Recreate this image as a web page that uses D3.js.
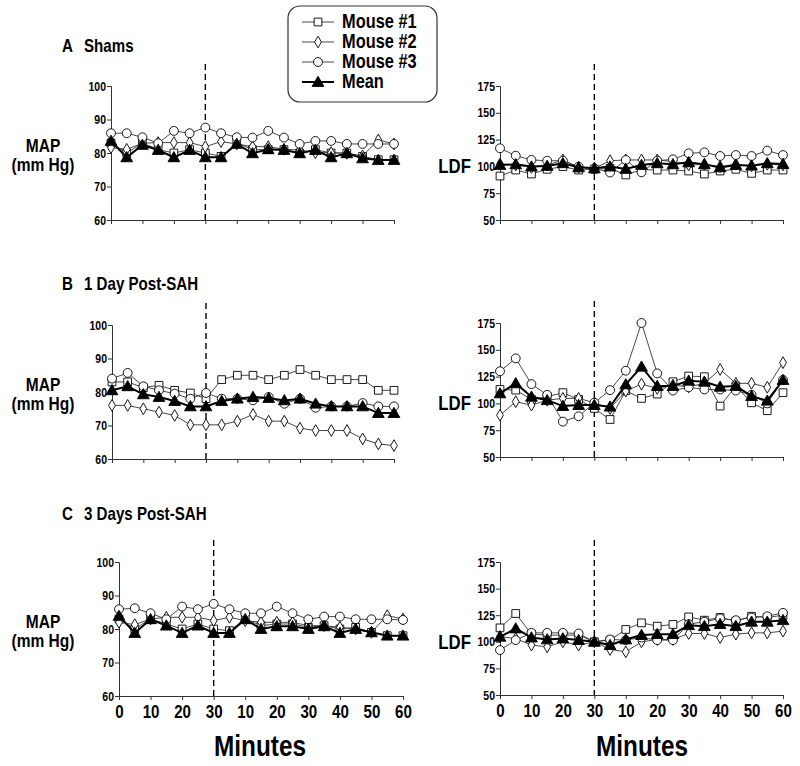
<!DOCTYPE html>
<html>
<head>
<meta charset="utf-8">
<script src="https://cdn.jsdelivr.net/npm/d3@7"></script>
<style>
  body { margin: 0; background: #fff; }
  svg text { font-family: "Liberation Sans", Arial, sans-serif; font-weight: bold; fill: #000; }
</style>
</head>
<body>
<script>
// positions along the x axis (5-min steps, baseline 0-30 then occlusion 0-60)
var elapsed = [0, 5, 10, 15, 20, 25, 30, 35, 40, 45, 50, 55, 60, 65, 70, 75, 80, 85, 90];
var tickPos = [0, 10, 20, 30, 40, 50, 60, 70, 80, 90];
var tickLabels = ["0", "10", "20", "30", "10", "20", "30", "40", "50", "60"];
var seriesNames = ["Mouse #1", "Mouse #2", "Mouse #3", "Mean"];

// A  Shams
var shamMap1 = [83, 80, 83, 81, 80, 81, 80, 79, 83, 81, 81, 81, 80, 81, 80, 80, 79, 78, 78];
var shamMap2 = [81.6, 81.1, 82.9, 83.1, 83.1, 83.1, 81.9, 83.4, 82.7, 81.9, 81.9, 81.1, 80.9, 80.1, 80.1, 79.9, 79.1, 83.9, 82.7];
var shamMap3 = [85.9, 85.9, 84.7, 82.9, 86.6, 85.9, 87.6, 85.9, 84.7, 84.6, 86.6, 84.6, 82.7, 83.6, 83.6, 82.7, 82.7, 82.7, 82.7];
var shamMapMean = [83.6, 78.7, 82.4, 80.9, 78.7, 80.9, 78.7, 78.7, 82.7, 79.9, 81.1, 80.9, 79.9, 80.9, 78.7, 79.9, 78.4, 77.9, 77.9];

var shamLdf1 = [91, 96.6, 92.9, 97.3, 99.8, 96.6, 97.3, 98.2, 92, 97, 96.6, 96.6, 95.7, 92.9, 95.7, 97.3, 93.5, 96.6, 96.6];
var shamLdf2 = [102.2, 101.3, 99.1, 101.3, 106, 99.1, 98.2, 105.3, 106, 106, 106, 104.5, 101.3, 102, 99.8, 102, 100.4, 102, 101.3];
var shamLdf3 = [116.9, 110, 106, 105.3, 105.3, 99.8, 98.2, 94.3, 106, 94.5, 105.3, 106.6, 112.2, 113.1, 109.7, 110.6, 109.7, 114.7, 110.6];
var shamLdfMean = [101.3, 101.9, 99.8, 100.4, 102.9, 99.1, 98.2, 99.8, 97.6, 101.3, 102.9, 101.9, 103.8, 101.9, 99.1, 101.3, 100.7, 102.9, 102.2];

// B  1 Day Post-SAH
var day1Map1 = [83, 83, 81.3, 82, 80.5, 79.7, 78, 83.7, 85, 85, 83.7, 85, 86.7, 85, 83.7, 83.7, 83.7, 80.5, 80.5];
var day1Map2 = [76, 76, 75, 74, 73, 70.2, 70.2, 70.2, 71.3, 73.3, 71.3, 71.3, 69.2, 68.5, 68.5, 68.5, 66, 64.5, 64];
var day1Map3 = [84, 85.7, 81.7, 80.5, 79.5, 78, 79.7, 78, 78, 77.5, 78.5, 76.5, 78, 75.3, 75.7, 75.7, 76.7, 75.7, 75.7];
var day1MapMean = [80.5, 81.7, 79.3, 78.5, 77.3, 75.7, 75.7, 77.3, 78, 78.5, 78.2, 77.5, 78, 76.5, 75.7, 75.7, 75.7, 73.7, 73.7];

var day1Ldf1 = [113, 112.4, 103.7, 106.2, 110, 103.7, 95.3, 85, 111.8, 104.7, 108.7, 120.2, 125.5, 124.9, 97.5, 116.2, 100.6, 93.2, 110];
var day1Ldf2 = [89, 101.6, 98.4, 103, 104.7, 104.7, 100.6, 95.3, 111.5, 118, 114, 117, 115.5, 118.7, 131.7, 118.7, 118.7, 115, 138];
var day1Ldf3 = [130, 142, 118, 108, 83, 88, 100.6, 112.4, 130.5, 175, 128, 112, 115, 113, 113, 112, 108, 100, 122];
var day1LdfMean = [109.3, 118.7, 106.2, 103, 97.5, 98.4, 98.4, 96.9, 117.7, 134.2, 116.2, 116.2, 121.1, 120.2, 115.5, 116.2, 106.8, 102.5, 121.8];

// C  3 Days Post-SAH
var day3Map1 = [83, 80, 83, 81.5, 80, 81.5, 80, 79.5, 83, 81, 81.5, 81.5, 80.5, 81, 80, 80.5, 79, 78, 78];
var day3Map2 = [82, 81.3, 83, 83.5, 83.5, 83.5, 82.5, 83.5, 82.5, 82, 82, 82, 81, 81, 80.5, 80, 79, 84, 83];
var day3Map3 = [85.9, 86.2, 84.7, 82.9, 86.7, 85.9, 87.5, 85.9, 84.7, 84.7, 86.7, 84.7, 82.9, 83.7, 83.7, 82.9, 82.9, 82.9, 82.7];
var day3MapMean = [83.9, 78.8, 82.9, 81, 78.8, 81, 78.8, 78.8, 82.9, 80, 80.8, 80.8, 80, 80.8, 78.8, 80, 79, 78, 78];

var day3Ldf1 = [113.1, 126.6, 107.2, 106.3, 106.3, 106.3, 100, 101.6, 111.6, 117.8, 114.7, 116.3, 123.4, 120.3, 122.8, 119.4, 124, 122.8, 125];
var day3Ldf2 = [105, 103, 96.9, 95.3, 100, 96.9, 100, 92.8, 90.6, 100, 102.2, 102.2, 107.8, 107.8, 104, 107.2, 108.4, 108.4, 110];
var day3Ldf3 = [92.2, 101.6, 108.4, 108.4, 108.4, 107.8, 100, 102.2, 101.6, 104, 101.6, 101.6, 116.6, 118.8, 121.9, 120.3, 122.8, 124, 127.2];
var day3LdfMean = [104.7, 112.5, 104, 102.2, 103.1, 101.6, 100, 96.9, 102.2, 106.3, 107.2, 107.2, 115.6, 114.7, 116.6, 114.7, 118.8, 118.8, 120.3];

var mapTicks = [60, 70, 80, 90, 100];
var ldfTicks = [50, 75, 100, 125, 150, 175];

// the original uses a condensed bold face; squeeze horizontally
var squeeze = 0.84;

var svg = d3.select("body").append("svg")
  .attr("width", 800)
  .attr("height", 766);

function ctext(g, x, y, str, size, anchor) {
  return g.append("text")
    .attr("transform", "translate(" + x + "," + y + ") scale(" + squeeze + ",1)")
    .attr("text-anchor", anchor || "start")
    .style("font-size", size + "px")
    .text(str);
}

var symbols = [d3.symbolSquare, d3.symbolDiamond, d3.symbolCircle, d3.symbolTriangle];
var symSizes = [60, 40, 62, 60];

function marker(g, i, x, y) {
  g.append("path")
    .attr("transform", "translate(" + x + "," + (i == 3 ? y + 1 : y) + ")")
    .attr("d", d3.symbol().type(symbols[i]).size(symSizes[i])())
    .attr("fill", i == 3 ? "#000" : "#fff")
    .attr("stroke", "#000")
    .attr("stroke-width", 0.9);
}

function panel(x0, x1, y0, y1, domain, ticks, series, showLabels, kind) {
  var x = d3.scaleLinear().domain([0, 90]).range([x0, x1]);
  var y = d3.scaleLinear().domain(domain).range([y1, y0]);
  var g = svg.append("g");

  // dashed divider at end of baseline
  g.append("line")
    .attr("x1", x(30)).attr("x2", x(30))
    .attr("y1", y0 - 22).attr("y2", y1)
    .attr("stroke", "#000")
    .attr("stroke-width", 1.4)
    .attr("stroke-dasharray", "6,4");

  var yAxis = g.append("g")
    .attr("transform", "translate(" + x0 + ",0)")
    .call(d3.axisLeft(y).tickValues(ticks).tickSize(4).tickPadding(2));
  yAxis.selectAll("text")
    .attr("transform", "scale(" + squeeze + ",1)")
    .style("font-size", "12.5px");

  var xAxis = g.append("g")
    .attr("transform", "translate(0," + y1 + ")")
    .call(d3.axisBottom(x).tickValues(tickPos).tickSize(4).tickPadding(5)
      .tickFormat(function(d, i) { return showLabels ? tickLabels[i] : ""; }));
  xAxis.selectAll("text")
    .attr("transform", "scale(" + squeeze + ",1)")
    .style("font-size", "18px");
  g.selectAll(".domain").attr("stroke", "#333").attr("stroke-width", 1);
  g.selectAll(".tick line").attr("stroke", "#333");

  var line = d3.line()
    .x(function(d, i) { return x(elapsed[i]); })
    .y(function(d) { return y(d); });

  series.forEach(function(vals, i) {
    g.append("path")
      .attr("d", line(vals))
      .attr("fill", "none")
      .attr("stroke", i == 3 ? "#000" : "#333")
      .attr("stroke-width", i == 3 ? 2 : 0.9);
    vals.forEach(function(v, j) {
      marker(g, i, x(elapsed[j]), y(v));
    });
  });

  var cy = (y0 + y1) / 2;
  if (kind == "map") {
    ctext(g, 43, cy - 1, "MAP", 18.5, "middle");
    ctext(g, 43, cy + 18, "(mm Hg)", 18.5, "middle");
  } else {
    ctext(g, 471, y(100) + 7, "LDF", 20, "end");
  }
}

function title(letter, label, yb) {
  ctext(svg, 62, yb, letter, 18);
  ctext(svg, 84, yb, label, 18);
}

title("A", "Shams", 52);
title("B", "1 Day Post-SAH", 290);
title("C", "3 Days Post-SAH", 520);

panel(111, 394, 86, 220, [60, 100], mapTicks, [shamMap1, shamMap2, shamMap3, shamMapMean], false, "map");
panel(500, 783, 86, 220, [50, 175], ldfTicks, [shamLdf1, shamLdf2, shamLdf3, shamLdfMean], false, "ldf");
panel(112, 394, 325, 459, [60, 100], mapTicks, [day1Map1, day1Map2, day1Map3, day1MapMean], false, "map");
panel(500, 783, 323, 457, [50, 175], ldfTicks, [day1Ldf1, day1Ldf2, day1Ldf3, day1LdfMean], false, "ldf");
panel(119, 403, 562, 696, [60, 100], mapTicks, [day3Map1, day3Map2, day3Map3, day3MapMean], true, "map");
panel(500, 783, 562, 695, [50, 175], ldfTicks, [day3Ldf1, day3Ldf2, day3Ldf3, day3LdfMean], true, "ldf");

// x-axis titles
ctext(svg, 260, 756, "Minutes", 29, "middle");
ctext(svg, 642, 756, "Minutes", 29, "middle");

// legend
var legend = svg.append("g");
legend.append("rect")
  .attr("x", 288).attr("y", 6).attr("width", 149).attr("height", 96)
  .attr("rx", 12).attr("fill", "#fff").attr("stroke", "#333").attr("stroke-width", 1.2);
seriesNames.forEach(function(name, i) {
  var yb = 28 + i * 20;
  legend.append("line")
    .attr("x1", 302).attr("x2", 334).attr("y1", yb - 6).attr("y2", yb - 6)
    .attr("stroke", i == 3 ? "#000" : "#333").attr("stroke-width", i == 3 ? 2 : 0.9);
  marker(legend, i, 318, yb - 6);
  ctext(legend, 342, yb, name, 19.5);
});
</script>
</body>
</html>
